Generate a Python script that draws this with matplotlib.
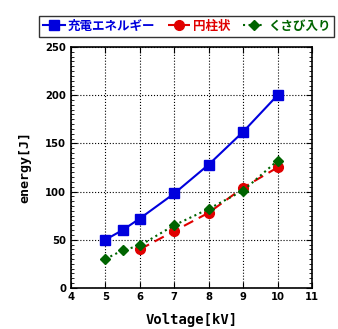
import matplotlib.pyplot as plt
from matplotlib.ticker import MultipleLocator

plt.rcParams['font.family'] = ['Noto Sans CJK JP', 'DejaVu Sans']

# data
v_charge = [5, 5.5, 6, 7, 8, 9, 10]
e_charge = [50, 60, 72, 98, 128, 162, 200]
v_cyl = [6, 7, 8, 9, 10]
e_cyl = [40, 59, 78, 104, 125]
v_wedge = [5, 5.5, 6, 7, 8, 9, 10]
e_wedge = [30, 39, 44, 65, 82, 101, 132]

labels = ['充電エネルギー', '円柱状', 'くさび入り']
colors = ['#0000dd', '#e00000', '#006400']

fig = plt.figure(figsize=(3.38, 3.29), dpi=100)
ax = fig.add_axes([0.210, 0.125, 0.713, 0.732])

ax.plot(v_charge, e_charge, color=colors[0], marker='s', markersize=7,
        linewidth=1.5, linestyle='-', label=labels[0])
ax.plot(v_cyl, e_cyl, color=colors[1], marker='o', markersize=7,
        linewidth=1.5, linestyle=(0, (5, 3)), label=labels[1])
ax.plot(v_wedge, e_wedge, color=colors[2], marker='D', markersize=5,
        linewidth=1.5, linestyle=':', label=labels[2])

ax.set_xlim(4, 11)
ax.set_ylim(0, 250)
ax.xaxis.set_major_locator(MultipleLocator(1))
ax.yaxis.set_major_locator(MultipleLocator(50))
ax.yaxis.set_minor_locator(MultipleLocator(5))
ax.tick_params(which='both', direction='in', top=True, right=True)
ax.tick_params(which='major', length=4, labelsize=8)
ax.tick_params(which='minor', length=2)
ax.tick_params(axis='x', pad=3)
for t in ax.get_xticklabels() + ax.get_yticklabels():
    t.set_fontweight('bold')
    t.set_fontfamily('DejaVu Sans')
    t.set_fontstretch('condensed')
ax.grid(True, which='major', color='black', linestyle=':', linewidth=0.8)
for s in ax.spines.values():
    s.set_linewidth(1.2)

ax.set_xlabel('Voltage[kV]', family='DejaVu Sans Mono', fontweight='bold',
              fontsize=10, labelpad=8)
ax.set_ylabel('energy[J]', family='DejaVu Sans Mono', fontweight='bold',
              fontsize=9.5, labelpad=10)

leg = fig.legend(loc='upper center', bbox_to_anchor=(0.552, 0.97), ncol=3,
                 frameon=True, fancybox=False, edgecolor='black',
                 prop={'weight': 'bold', 'size': 9}, handlelength=1.8,
                 handletextpad=0.2, columnspacing=1.0, borderpad=0.3)
leg.get_frame().set_linewidth(1.0)
for txt, c in zip(leg.get_texts(), colors):
    txt.set_color(c)

fig.savefig('out.png', dpi=100)
